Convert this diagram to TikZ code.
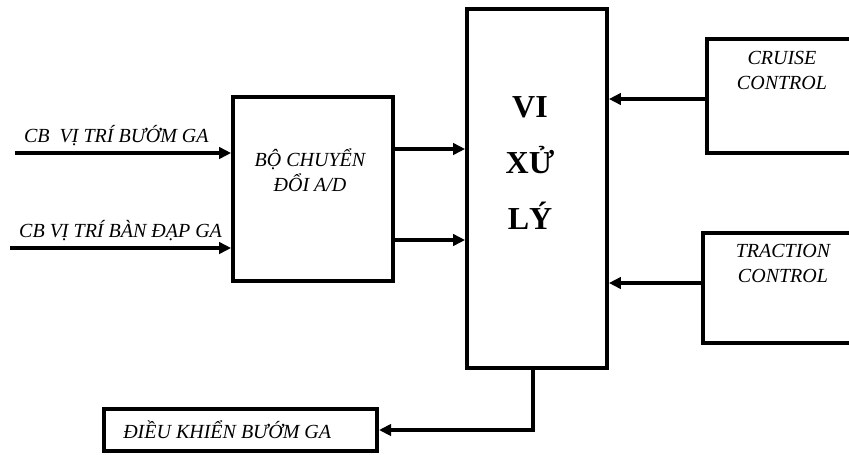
\documentclass[tikz,border=0pt]{standalone}
\usepackage{fontspec}
\setmainfont{Liberation Serif}
\usetikzlibrary{arrows.meta}

\begin{document}
\begin{tikzpicture}[x=0.75pt,y=-0.75pt,
    box/.style={draw,line width=2.8pt,inner sep=0pt},
    conn/.style={line width=2.6pt,-{Triangle[length=9pt,width=8.5pt]}},
    lbl/.style={font=\fontsize{15}{18.75}\selectfont\itshape,align=center}]
        \useasboundingbox (0,0) rectangle (849,454);
        \clip (0,0) rectangle (849,454);
        % blocks
        \node[box,minimum width=120pt,minimum height=138pt] (ad) at (313,189) {};
        \node[box,minimum width=105pt,minimum height=269pt] (vxl) at (537,188.5) {};
        \node[box,minimum width=115pt,minimum height=85.5pt] (cruise) at (783.5,96) {};
        \node[box,minimum width=119pt,minimum height=82.5pt] (traction) at (782.5,288) {};
        \node[box,minimum width=205pt,minimum height=31pt] (dk) at (240.5,430) {};
        % texts
        \node[lbl] (adtxt) at (310,170) {BỘ CHUYỂN\\ĐỔI A/D};
        \node[font=\fontsize{24}{42}\selectfont\bfseries,align=center] (vxltxt) at (530,163) {VI\\XỬ\\LÝ};
        \node[lbl] (cruisetxt) at (782,70) {CRUISE\\CONTROL};
        \node[lbl] (tractiontxt) at (783,263) {TRACTION\\CONTROL};
        \node[lbl,anchor=west,inner sep=0pt] (dktxt) at (123,430) {ĐIỀU KHIỂN BƯỚM GA};
        % inputs
        \coordinate (in1) at (15,153);
        \coordinate (in2) at (10,248);
        \draw[conn] (in1) -- (in1 -| ad.west)
            node[lbl,midway,above=1pt,xshift=-5pt] (in1txt) {CB\ \ VỊ TRÍ BƯỚM GA};
        \draw[conn] (in2) -- (in2 -| ad.west)
            node[lbl,midway,above=1pt] (in2txt) {CB VỊ TRÍ BÀN ĐẠP GA};
        % connections
        \draw[conn] (ad.east |- 0,149) -- (vxl.west |- 0,149);
        \draw[conn] (ad.east |- 0,240) -- (vxl.west |- 0,240);
        \draw[conn] (cruise.west |- 0,99) -- (vxl.east |- 0,99);
        \draw[conn] (traction.west |- 0,283) -- (vxl.east |- 0,283);
        \draw[conn] ([xshift=-3pt]vxl.south) |- (dk.east);
    \end{tikzpicture}
\end{document}
